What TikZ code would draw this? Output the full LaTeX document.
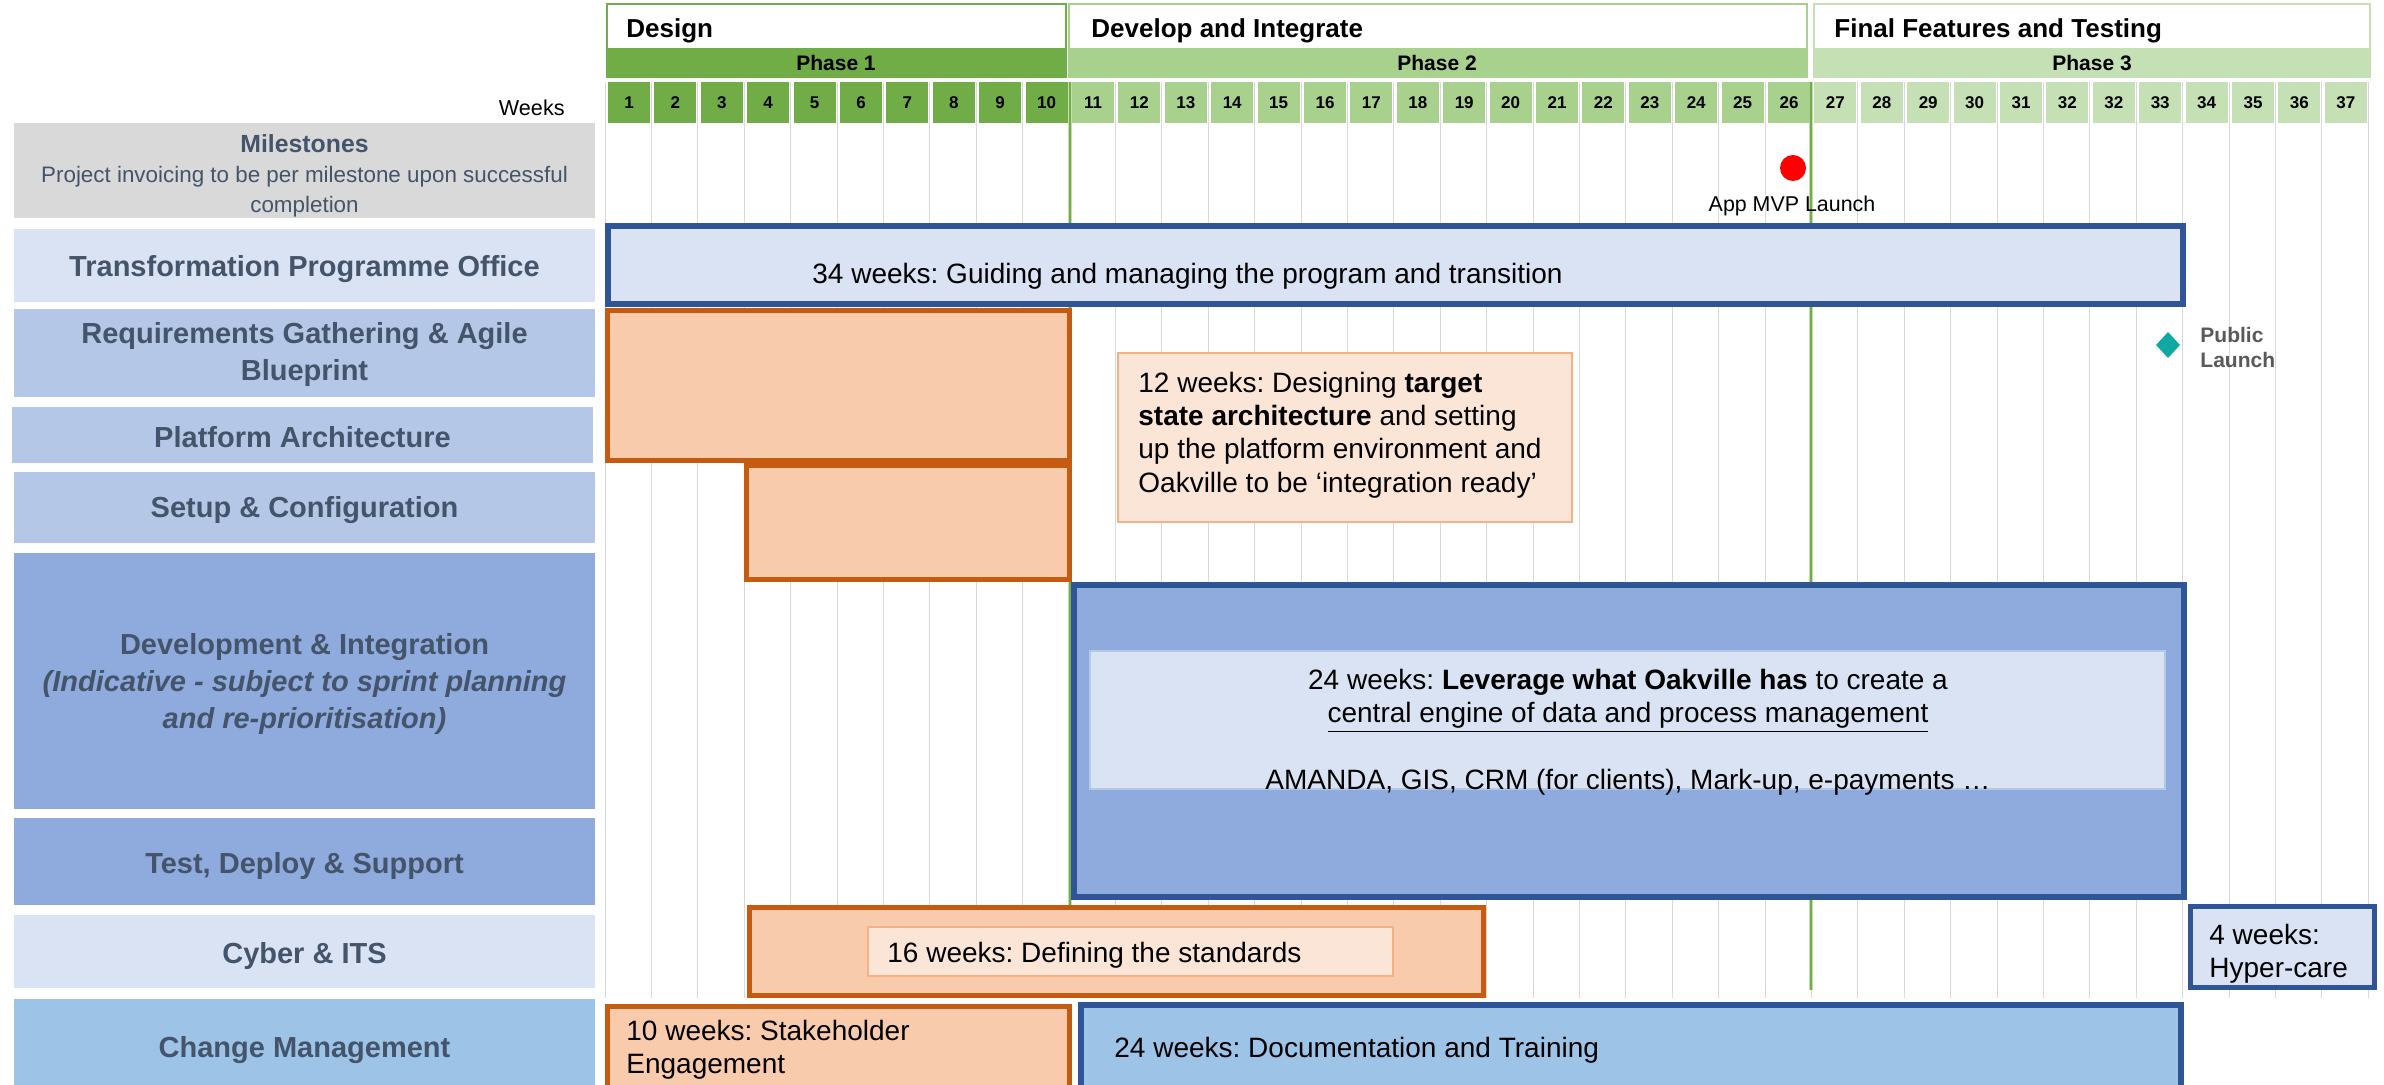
\documentclass[tikz,border=0pt]{standalone}
\usepackage{fontspec}
\setmainfont{Liberation Sans}
\frenchspacing
\definecolor{phA}{HTML}{70AD47}
\definecolor{phB}{HTML}{A9D18E}
\definecolor{phC}{HTML}{C5E0B4}
\definecolor{lblText}{HTML}{44546A}
\definecolor{msGray}{HTML}{D9D9D9}
\definecolor{gridGray}{HTML}{D9D9D9}
\definecolor{blueA}{HTML}{DAE3F3}
\definecolor{blueB}{HTML}{B4C7E7}
\definecolor{blueC}{HTML}{8FAADC}
\definecolor{blueD}{HTML}{9DC3E6}
\definecolor{navy}{HTML}{2F5597}
\definecolor{rust}{HTML}{C55A11}
\definecolor{peach}{HTML}{F8CBAD}
\definecolor{peachLight}{HTML}{FBE5D6}
\definecolor{peachEdge}{HTML}{F4B183}
\definecolor{tealMark}{HTML}{12A8A2}
\definecolor{launchGray}{HTML}{595959}
\tikzset{
  rowlabel/.style={font=\bfseries\fontsize{14.5}{18.5}\selectfont, text=lblText, align=center, inner sep=0pt},
  bartext/.style={font=\fontsize{14}{16.7}\selectfont, align=left, anchor=west, inner sep=0pt},
  headtext/.style={font=\bfseries\fontsize{13}{15}\selectfont, anchor=west, inner sep=0pt},
  phasetext/.style={font=\bfseries\fontsize{10.5}{12}\selectfont, inner sep=0pt},
  weekcell/.style={minimum width=21pt, minimum height=20.5pt, inner sep=0pt, font=\bfseries\fontsize{8.5}{10}\selectfont},
  navybar/.style={fill=blueA, draw=navy, line width=3pt},
  rustbar/.style={fill=peach, draw=rust, line width=2.5pt},
  notebox/.style={fill=peachLight, draw=peachEdge, line width=1pt},
}
\begin{document}
\begin{tikzpicture}[x=0.5pt,y=-0.5pt]
\useasboundingbox (0,0) rectangle (2384,1085);

% ---------- week grid ----------
\foreach \k in {0,...,38}{
  \draw[gridGray, line width=0.5pt] ({605+\k*46.4},82) -- ({605+\k*46.4},998);
}
\draw[phB!70!white, line width=2pt] (1070,82) -- (1070,990);
\draw[phA, line width=0.8pt] (1070,82) -- (1070,990);
\draw[phB!70!white, line width=2pt] (1811,82) -- (1811,990);
\draw[phA, line width=0.8pt] (1811,82) -- (1811,990);

% ---------- phase headers ----------
\draw[phA, line width=1pt, fill=white] (607,4) rectangle (1066,77);
\fill[phA] (607,48) rectangle (1066,77);
\node[headtext] (hDesign) at (626,31) {Design};
\node[phasetext] (pOne) at (836,63) {Phase 1};

\draw[phB, line width=1pt, fill=white] (1069,4) rectangle (1807,77);
\fill[phB] (1069,48) rectangle (1807,77);
\node[headtext] (hDevelop) at (1091,31) {Develop and Integrate};
\node[phasetext] (pTwo) at (1437,63) {Phase 2};

\draw[phC, line width=1pt, fill=white] (1814,4) rectangle (2370,77);
\fill[phC] (1814,48) rectangle (2370,77);
\node[headtext] (hFinal) at (1834,31) {Final Features and Testing};
\node[phasetext] (pThree) at (2092,63) {Phase 3};

% ---------- week numbers ----------
\node[anchor=east, font=\fontsize{10.8}{12}\selectfont, inner sep=0pt] (weeksLbl) at (565,108) {Weeks};
\foreach \lab [count=\i] in {1,2,3,4,5,6,7,8,9,10,11,12,13,14,15,16,17,18,19,20,21,22,23,24,25,26,27,28,29,30,31,32,32,33,34,35,36,37}{
  \ifnum\i<11 \def\wc{phA}\else\ifnum\i<27 \def\wc{phB}\else\def\wc{phC}\fi\fi
  \node[weekcell, fill=\wc] (wk\i) at ({629+(\i-1)*46.4},102.5) {\lab};
}

% ---------- row labels ----------
\fill[msGray] (14,123) rectangle (595,218);
\node[rowlabel, font=\fontsize{11.2}{15}\selectfont] (lMiles) at (304.5,176)
  {{\bfseries\fontsize{12.4}{15}\selectfont Milestones}\\Project invoicing to be per milestone upon successful\\completion};

\fill[blueA] (14,229) rectangle (595,302);
\node[rowlabel] (lTPO) at (304.5,269) {Transformation Programme Office};

\fill[blueB] (14,309) rectangle (595,397);
\node[rowlabel] (lReq) at (304.5,355) {Requirements Gathering \& Agile\\Blueprint};

\fill[blueB] (12,407) rectangle (593,463);
\node[rowlabel] (lPlat) at (302.5,437) {Platform Architecture};

\fill[blueB] (14,472) rectangle (595,543);
\node[rowlabel] (lSetup) at (304.5,510) {Setup \& Configuration};

\fill[blueC] (14,553) rectangle (595,809);
\node[rowlabel] (lDev) at (304.5,684) {Development \& Integration\\\itshape(Indicative - subject to sprint planning\\\itshape and re-prioritisation)};

\fill[blueC] (14,818) rectangle (595,905);
\node[rowlabel] (lTest) at (304.5,866) {Test, Deploy \& Support};

\fill[blueA] (14,915) rectangle (595,988);
\node[rowlabel] (lCyber) at (304.5,956) {Cyber \& ITS};

\fill[blueD] (14,999) rectangle (595,1085);
\node[rowlabel] (lChange) at (304.5,1050) {Change Management};

% ---------- milestones ----------
\fill[red] (1793,168) circle[radius=6.5pt];
\node[font=\fontsize{10.7}{12}\selectfont, inner sep=0pt] (mvp) at (1792,206) {App MVP Launch};
\fill[tealMark] (2168,332) -- (2180,345) -- (2168,358) -- (2156,345) -- cycle;
\node[font=\bfseries\fontsize{10.5}{12.5}\selectfont, text=launchGray, align=left, anchor=west, inner sep=0pt] (pubLaunch) at (2200,347) {Public\\Launch};

% ---------- activity bars ----------
\draw[navybar] (608,226) rectangle (2183,304);
\node[bartext] (tTPO) at (812,276) {34 weeks: Guiding and managing the program and transition};

\draw[rustbar] (607.5,310.5) rectangle (1069.5,460.5);
\draw[rustbar] (746.5,465.5) rectangle (1069.5,579.5);

\draw[notebox] (1118,353) rectangle (1572,522);
\node[bartext] (tArch) at (1138,435)
  {12 weeks: Designing \textbf{target}\\\textbf{state architecture} and setting\\up the platform environment and\\Oakville to be ‘integration ready’};

\draw[navybar, fill=blueC] (1074,585) rectangle (2184,897);
\draw[fill=blueA, draw=blueB, line width=1pt] (1090,651) rectangle (2165,789);
\node[bartext, anchor=center, align=center] (tDev) at (1628,732)
  {24 weeks: \textbf{Leverage what Oakville has} to create a\\\underline{central engine of data and process management}\\[16.7pt]AMANDA, GIS, CRM (for clients), Mark-up, e-payments …};

\draw[rustbar] (749.5,907.5) rectangle (1483.5,995.5);
\draw[notebox] (868,927) rectangle (1393,976);
\node[bartext] (tCyber) at (887,955) {16 weeks: Defining the standards};

\draw[navybar, line width=2.5pt] (2190.5,906.5) rectangle (2374.5,987.5);
\node[bartext] (tHyper) at (2209,954) {4 weeks:\\Hyper-care};

\draw[rustbar] (607.5,1006.5) rectangle (1069.5,1100);
\node[bartext] (tStake) at (626,1050) {10 weeks: Stakeholder\\Engagement};

\draw[navybar, fill=blueD] (1081,1005) rectangle (2181,1100);
\node[bartext] (tDoc) at (1114,1050) {24 weeks: Documentation and Training};
\end{tikzpicture}
\end{document}
